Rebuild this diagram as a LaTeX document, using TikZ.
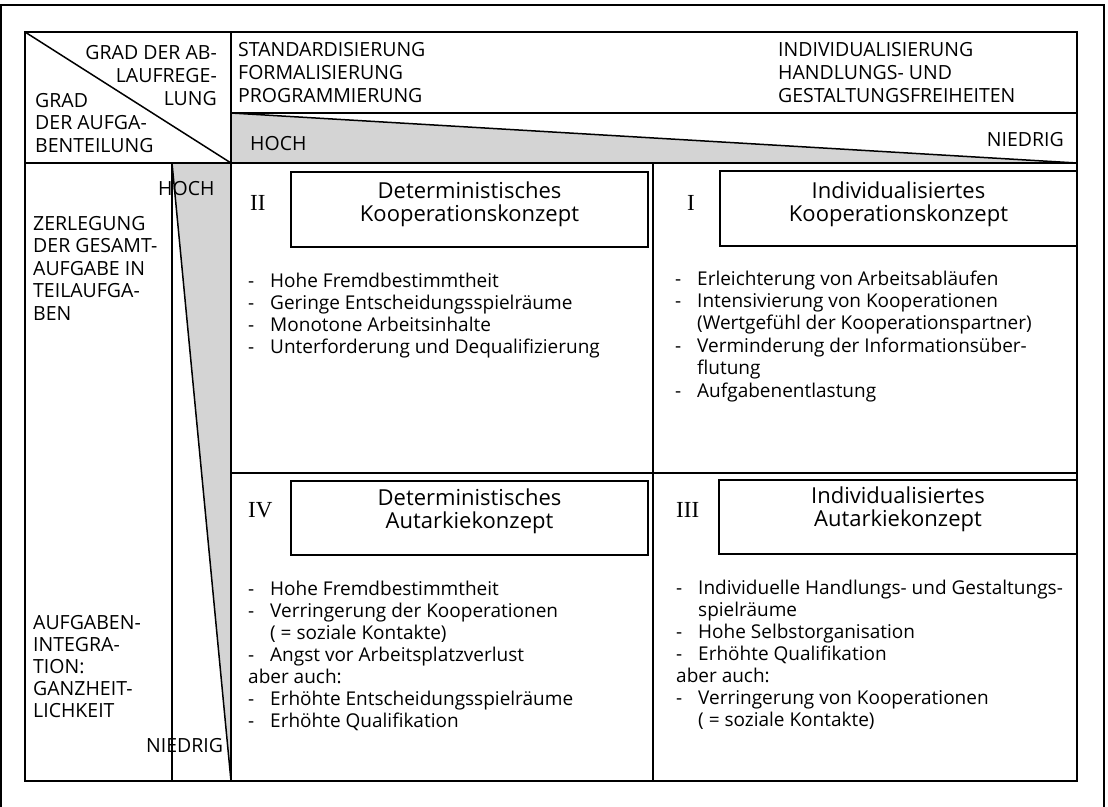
\documentclass[tikz,border=0pt]{standalone}
\usepackage{fontspec}
\setmainfont{Open Sans}
\newfontfamily\numfont{Liberation Serif}
\newcommand\itm{\makebox[22pt][l]{-}}
\newcommand\ind{\hspace*{22pt}}
\begin{document}
% multi-line nodes are anchored at the baseline of their last line
\begin{tikzpicture}[x=1pt,y=-1pt,
  rule/.style={line width=1.5pt},
  frame/.style={line width=2pt},
  shade/.style={fill=black!17},
  lbl/.style={inner sep=0pt, font=\fontsize{19.5}{22.6}\selectfont},
  lblL/.style={lbl, anchor=base west, align=left},
  lblR/.style={lbl, anchor=base east, align=right},
  lst/.style={inner sep=0pt, anchor=base west, align=left, font=\fontsize{19}{22.2}\selectfont},
  title/.style={inner sep=0pt, anchor=base, align=center, font=\fontsize{22}{22.8}\selectfont},
  roman/.style={inner sep=0pt, anchor=base west, font=\fontsize{23}{23}\numfont},
  conceptbox/.style={draw, line width=1.5pt},
]
\useasboundingbox (0,0) rectangle (1108,806);

% outer frame (open at the bottom edge of the page)
\draw[frame] (1,812) -- (1,5) -- (1104,5) -- (1104,812);

% shaded wedges: degree of process regulation and of task division
\fill[shade] (231,113) -- (231,163) -- (1077,163) -- cycle;
\fill[shade] (172,163) -- (231,163) -- (231,781) -- cycle;

% table grid
\draw[rule] (25,32) rectangle (1077,781);
\draw[rule] (231,32) -- (231,781);
\draw[rule] (25,163) -- (1077,163);
\draw[rule] (231,113) -- (1077,113);
\draw[rule] (25,32) -- (231,163);
\draw[rule] (172,163) -- (172,781);
\draw[rule] (653,163) -- (653,781);
\draw[rule] (231,473) -- (1077,473);
\draw[rule] (231,113) -- (1077,163);
\draw[rule] (172,163) -- (231,781);

% concept boxes
\draw[conceptbox] (291,172) rectangle (648,247);
\draw[conceptbox] (720,171) rectangle (1077,246);
\draw[conceptbox] (291,481) rectangle (648,555);
\draw[conceptbox] (719,480) rectangle (1077,554);

% corner cell
\node[lblR, font=\fontsize{19.5}{23}\selectfont] (corA) at (217,105) {GRAD DER AB-\\LAUFREGE-\\LUNG};
\node[lblL, font=\fontsize{19.5}{22.5}\selectfont] (corB) at (35,152) {GRAD\\DER AUFGA-\\BENTEILUNG};

% column headings
\node[lblL, font=\fontsize{19.5}{23}\selectfont] (hdA) at (238,102) {STANDARDISIERUNG\\FORMALISIERUNG\\PROGRAMMIERUNG};
\node[lblL, font=\fontsize{19.5}{23}\selectfont] (hdB) at (778,102) {INDIVIDUALISIERUNG\\HANDLUNGS- UND\\GESTALTUNGSFREIHEITEN};
\node[lbl, anchor=base west] (hochA) at (250,150) {HOCH};
\node[lbl, anchor=base east] (niedA) at (1064,146) {NIEDRIG};

% row headings
\node[lbl, anchor=base west] (hochB) at (158,195) {HOCH};
\node[lblL] (rowA) at (33,320.4) {ZERLEGUNG\\DER GESAMT-\\AUFGABE IN\\TEILAUFGA-\\BEN};
\node[lblL, font=\fontsize{19.5}{22}\selectfont] (rowB) at (33,717) {AUFGABEN-\\INTEGRA-\\TION:\\GANZHEIT-\\LICHKEIT};
\node[lbl, anchor=base west] (niedB) at (146,752) {NIEDRIG};

% quadrant II
\node[roman] (numII) at (250,210.6) {II};
\node[title] (tII) at (469.5,221) {Deterministisches\\Kooperationskonzept};
\node[lst, font=\fontsize{19}{22.3}\selectfont] (lII) at (248,353.9) {\itm Hohe Fremdbestimmtheit\\\itm Geringe Entscheidungsspielräume\\\itm Monotone Arbeitsinhalte\\\itm Unterforderung und Dequalifizierung};

% quadrant I
\node[roman] (numI) at (687,210.6) {I};
\node[title] (tI) at (898.5,221) {Individualisiertes\\Kooperationskonzept};
\node[lst, font=\fontsize{19}{22.4}\selectfont] (lI) at (675,397) {\itm Erleichterung von Arbeitsabläufen\\\itm Intensivierung von Kooperationen\\\ind(Wertgefühl der Kooperationspartner)\\\itm Verminderung der Informationsüber-\\\ind flutung\\\itm Aufgabenentlastung};

% quadrant IV
\node[roman] (numIV) at (248,517.6) {IV};
\node[title] (tIV) at (469.5,528) {Deterministisches\\Autarkiekonzept};
\node[lst, font=\fontsize{19}{22}\selectfont] (lIV) at (248,727) {\itm Hohe Fremdbestimmtheit\\\itm Verringerung der Kooperationen\\\ind( = soziale Kontakte)\\\itm Angst vor Arbeitsplatzverlust\\aber auch:\\\itm Erhöhte Entscheidungsspielräume\\\itm Erhöhte Qualifikation};

% quadrant III
\node[roman] (numIII) at (676,517.6) {III};
\node[title] (tIII) at (898,526) {Individualisiertes\\Autarkiekonzept};
\node[lst, font=\fontsize{19}{22}\selectfont] (lIII) at (676,726) {\itm Individuelle Handlungs- und Gestaltungs-\\\ind spielräume\\\itm Hohe Selbstorganisation\\\itm Erhöhte Qualifikation\\aber auch:\\\itm Verringerung von Kooperationen\\\ind( = soziale Kontakte)};
\end{tikzpicture}
\end{document}
